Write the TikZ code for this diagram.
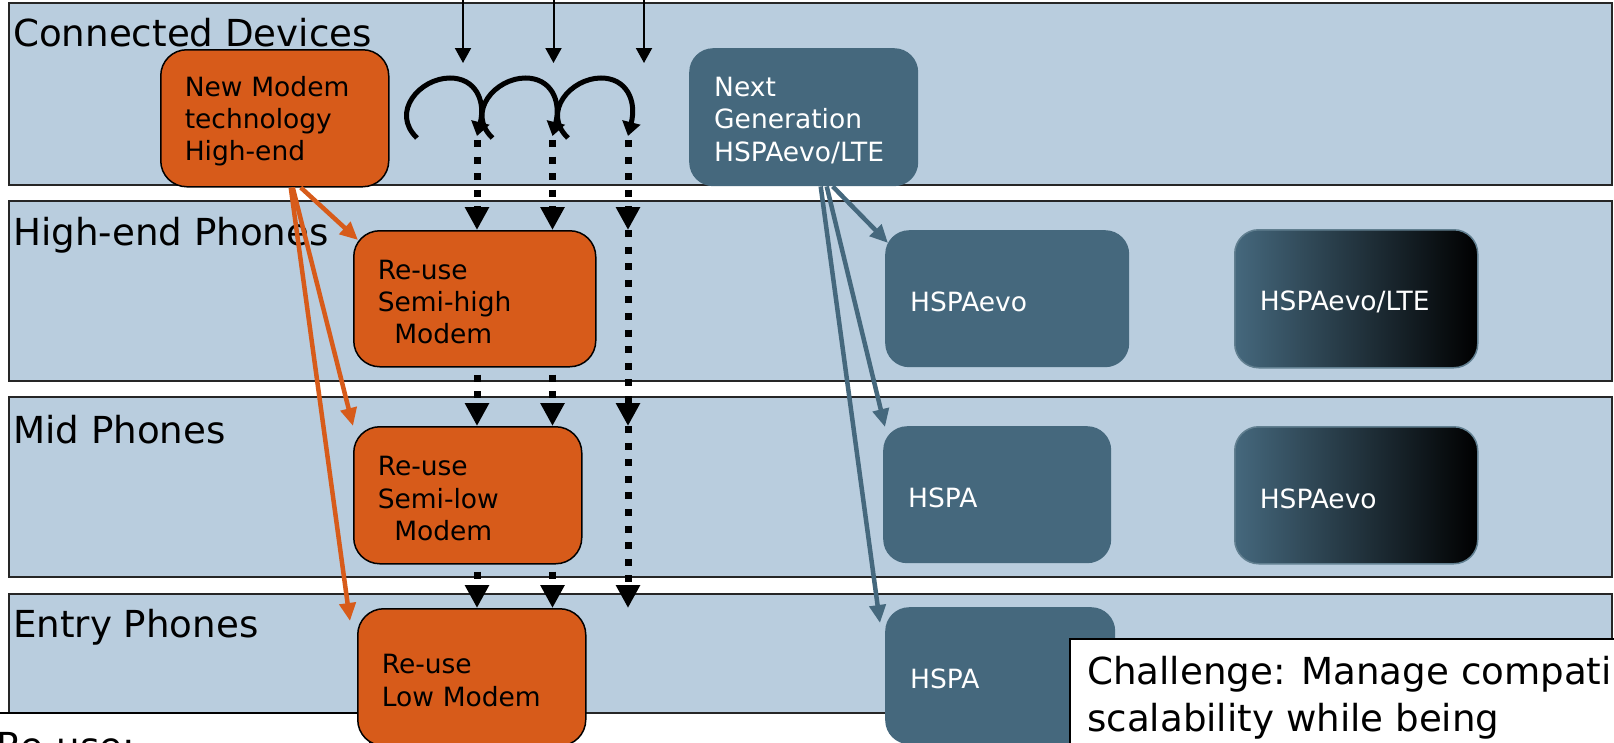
\documentclass[tikz,border=0pt]{standalone}
\usepackage{fontspec}
\setmainfont{DejaVu Sans}
\usetikzlibrary{arrows.meta}

\definecolor{bandblue}{RGB}{185,205,222}
\definecolor{modemorange}{RGB}{215,91,26}
\definecolor{hspablue}{RGB}{69,104,125}

\newcommand{\bandfont}{\fontsize{37.2}{44}\selectfont}
\newcommand{\boxfont}{\fontsize{26.5}{32.3}\selectfont}
\newcommand{\notefont}{\fontsize{37.2}{47}\selectfont}
\newcommand{\boxstrut}{\rule{0pt}{26pt}}

\tikzset{
  band/.style={fill=bandblue, draw=black!85, line width=1.5pt},
  bandlabel/.style={anchor=base west, inner sep=0pt, font=\bandfont},
  modembox/.style={draw=black, line width=1.5pt, fill=modemorange, rounded corners=26pt,
    anchor=north west, align=left, inner xsep=24pt, inner ysep=0pt, font=\boxfont},
  hspabox/.style={fill=hspablue, rounded corners=24pt, anchor=north west, align=left,
    inner xsep=25pt, inner ysep=0pt, text=white, font=\boxfont},
  evobox/.style={hspabox, draw=hspablue!85!white, line width=1.5pt, left color=hspablue, right color=black},
  notebox/.style={fill=white, draw=black, line width=1.5pt},
  notetext/.style={inner sep=0pt, align=left, font=\notefont},
  feed/.style={-{Triangle[length=15pt,width=16pt]}, line width=2pt},
  hop/.style={-{Triangle[length=14pt,width=18pt]}, line width=5pt},
  reuse/.style={-{Triangle[length=23pt,width=23pt]}, line width=7pt, dash pattern=on 7pt off 9.6pt},
  modemarrow/.style={-{Triangle[length=18pt,width=16pt]}, line width=4.5pt, draw=modemorange},
  hspaarrow/.style={-{Triangle[length=18pt,width=16pt]}, line width=4.5pt, draw=hspablue}
}

\begin{document}
\begin{tikzpicture}[x=1pt, y=-1pt]
    \useasboundingbox (0,0) rectangle (1614,742);
    \clip (0,0) rectangle (1614,742);
    \fill[white] (0,0) rectangle (1614,742);
    % Bands
    \draw[band] (9,3) rectangle (1612,185);
    \draw[band] (9,201) rectangle (1612,381);
    \draw[band] (9,397) rectangle (1612,577);
    \draw[band] (9,594) rectangle (1612,713);
    % Band titles
    \node[bandlabel] (conn) at (13,46) {Connected Devices};
    \node[bandlabel] (high) at (13,245) {High-end Phones};
    \node[bandlabel] (mid) at (13,443) {Mid Phones};
    \node[bandlabel] (entry) at (13,637) {Entry Phones};
    % Note at the bottom left
    \draw[notebox] (-20,713) rectangle (370,800);
    \node[notetext, anchor=base west] (reusenote) at (-4,759) {Re-use:};
    % Modem boxes
    \node[modembox, text width=180pt, minimum height=137pt] (newmodem) at (160,49)
        {\boxstrut New Modem\\technology\\High-end};
    \node[modembox, text width=194pt, minimum height=136pt] (reuseA) at (353,230)
        {\boxstrut Re-use\\Semi-high\\\hspace*{16.5pt}Modem};
    \node[modembox, text width=180pt, minimum height=137pt] (reuseB) at (353,426)
        {\boxstrut Re-use\\Semi-low\\\hspace*{16.5pt}Modem};
    \node[modembox, text width=180pt, minimum height=137pt] (reuseC) at (357,608)
        {\boxstrut Re-use\\Low Modem};
    % HSPA boxes
    \node[hspabox, text width=179pt, minimum height=138pt] (nextgen) at (689,48)
        {\boxstrut Next\\Generation\\HSPAevo/LTE};
    \node[hspabox, text width=194pt, minimum height=137pt] (evoA) at (885,230) {\boxstrut HSPAevo};
    \node[evobox, text width=193pt, minimum height=138pt] (evoLTE) at (1234,229) {\boxstrut HSPAevo/LTE};
    \node[hspabox, text width=178pt, minimum height=137pt] (hspaM) at (883,426) {\boxstrut HSPA};
    \node[evobox, text width=193pt, minimum height=137pt] (evoM) at (1234,426) {\boxstrut HSPAevo};
    \node[hspabox, text width=180pt, minimum height=137pt] (hspaE) at (885,607) {\boxstrut HSPA};
    % Incoming arrows and hops
    \foreach \i/\dx in {1/0,2/90.5,3/181} {
        \coordinate (in\i) at (463+\dx,-10);
        \coordinate (tip\i) at (463+\dx,63);
        \draw[feed] (in\i) -- (tip\i);
    }
    \foreach \i/\dx in {1/0,2/75.5,3/151} {
        \coordinate (hs\i) at (417+\dx,138);
        \coordinate (he\i) at (477+\dx,136);
        \draw[hop] (hs\i) .. controls (390+\dx,112) and (420+\dx,78) .. (450+\dx,78)
            .. controls (475+\dx,78) and (486+\dx,100) .. (he\i);
    }
    % Re-use paths
    \draw[reuse, shorten <=4pt] (he1) -- (he1 |- reuseA.north);
    \draw[reuse, shorten <=7pt] (he1 |- reuseA.south) -- (he1 |- reuseB.north);
    \draw[reuse, shorten <=7pt] (he1 |- reuseB.south) -- (he1 |- reuseC.north);
    \draw[reuse, shorten <=4pt] (he2) -- (he2 |- reuseA.north);
    \draw[reuse, shorten <=7pt] (he2 |- reuseA.south) -- (he2 |- reuseB.north);
    \draw[reuse, shorten <=7pt] (he2 |- reuseB.south) -- (he2 |- reuseC.north);
    \draw[reuse, shorten <=4pt] (he3) -- (he3 |- reuseA.north);
    \draw[reuse] (he3 |- reuseA.north) -- (he3 |- reuseB.north);
    \draw[reuse] (he3 |- reuseB.north) -- (he3 |- reuseC.north);
    % Modem arrows
    \draw[modemarrow] ([xshift=26pt]newmodem.south) -- ([shift={(5,10)}]reuseA.north west);
    \draw[modemarrow] ([xshift=18pt]newmodem.south) -- (reuseB.north west);
    \draw[modemarrow] ([xshift=16pt]newmodem.south) -- ([shift={(-7,13)}]reuseC.north west);
    % HSPA arrows
    \draw[hspaarrow] ([xshift=29pt]nextgen.south) -- ([shift={(3,13)}]evoA.north west);
    \draw[hspaarrow] ([xshift=23pt]nextgen.south) -- ([shift={(2,1)}]hspaM.north west);
    \draw[hspaarrow] ([xshift=17pt]nextgen.south) -- ([shift={(-5,16)}]hspaE.north west);
    % Challenge note
    \draw[notebox] (1070,639) rectangle (1700,800);
    \node[notetext, anchor=north west] (challenge) at (1087,656)
        {Challenge: Manage compati\\scalability while being};
\end{tikzpicture}
\end{document}
